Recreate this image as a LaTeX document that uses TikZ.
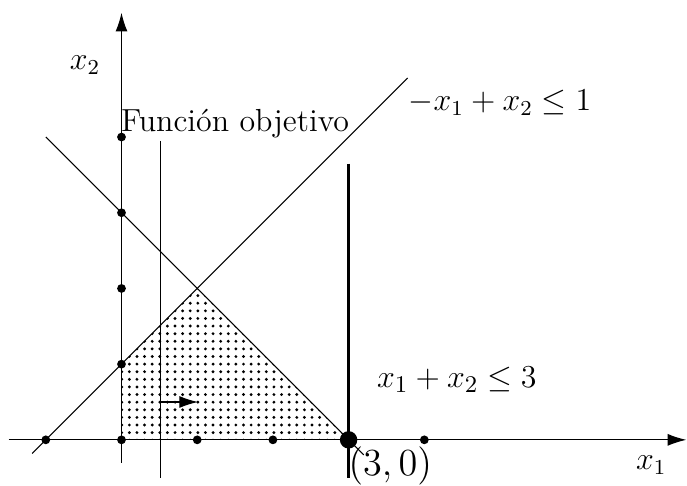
\documentclass[tikz,border=0pt]{standalone}
\usetikzlibrary{patterns,patterns.meta,arrows.meta}
\tikzdeclarepattern{
  name=regiondots,
  type=uncolored,
  bottom left={(-1.45pt,-1.45pt)},
  top right={(1.45pt,1.45pt)},
  tile size={(2.86pt,2.86pt)},
  code={\pgfpathcircle{\pgfpointorigin}{0.6pt}\pgfusepath{fill}}
}
\begin{document}
\begin{tikzpicture}[x=1cm,y=1cm,font=\fontsize{12}{14}\selectfont,
  thinline/.style={line width=0.4pt},
  tip/.style={-{Latex[length=7pt,width=4.5pt]}},
  smalldot/.style={circle,fill,inner sep=0pt,minimum size=3.3pt},
  bigdot/.style={circle,fill,inner sep=0pt,minimum size=2.3mm}]
\useasboundingbox (-1.605,-0.608) rectangle (7.47,5.81);
% feasible region
\fill[pattern=regiondots] (0,0) -- (0,1) -- (1,2) -- (3,0) -- cycle;
% axes
\coordinate (xl) at (-1.49,0);
\coordinate (xr) at (7.46,0);
\coordinate (yb) at (0,-0.3);
\coordinate (yt) at (0,5.64);
\draw[thinline,tip] (xl) -- (xr);
\draw[thinline,tip] (yb) -- (yt);
% constraint lines
\coordinate (a1) at (-1.18,-0.18);
\coordinate (a2) at (3.78,4.78);
\draw[thinline] (a1) -- (a2);
\coordinate (b1) at (-1,4);
\coordinate (b2) at (3.2,-0.2);
\draw[thinline] (b1) -- (b2);
\coordinate (c1) at (3,3.65);
\coordinate (c2) at (3,-0.5);
\draw[line width=1pt] (c1) -- (c2);
% objective
\coordinate (o1) at (0.51,3.95);
\coordinate (o2) at (0.51,-0.5);
\draw[thinline] (o1) -- (o2);
\coordinate (p1) at (0.51,0.5);
\coordinate (p2) at (1.01,0.5);
\draw[thinline,tip] (p1) -- (p2);
% dots
\foreach \p/\n in {{(-1,0)}/d1,{(0,0)}/d2,{(1,0)}/d3,{(2,0)}/d4,{(4,0)}/d5,{(0,1)}/d6,{(0,2)}/d7,{(0,3)}/d8,{(0,4)}/d9}
  \node[smalldot] (\n) at \p {};
\node[bigdot] (big) at (3,0) {};
% labels
\node (lx2) at (-0.48,4.95) {$x_2$};
\node (lx1) at (7.0,-0.33) {$x_1$};
\node (l1) at (5.0,4.45) {$-x_1+x_2\leq 1$};
\node (lf) at (1.5,4.18) {Función objetivo};
\node[font=\fontsize{12.6}{15}\selectfont] (l3) at (4.43,0.79) {$x_1+x_2\leq 3$};
\node[font=\fontsize{14}{16}\selectfont] (l30) at (3.55,-0.35) {$(3,0)$};
\end{tikzpicture}
\end{document}
